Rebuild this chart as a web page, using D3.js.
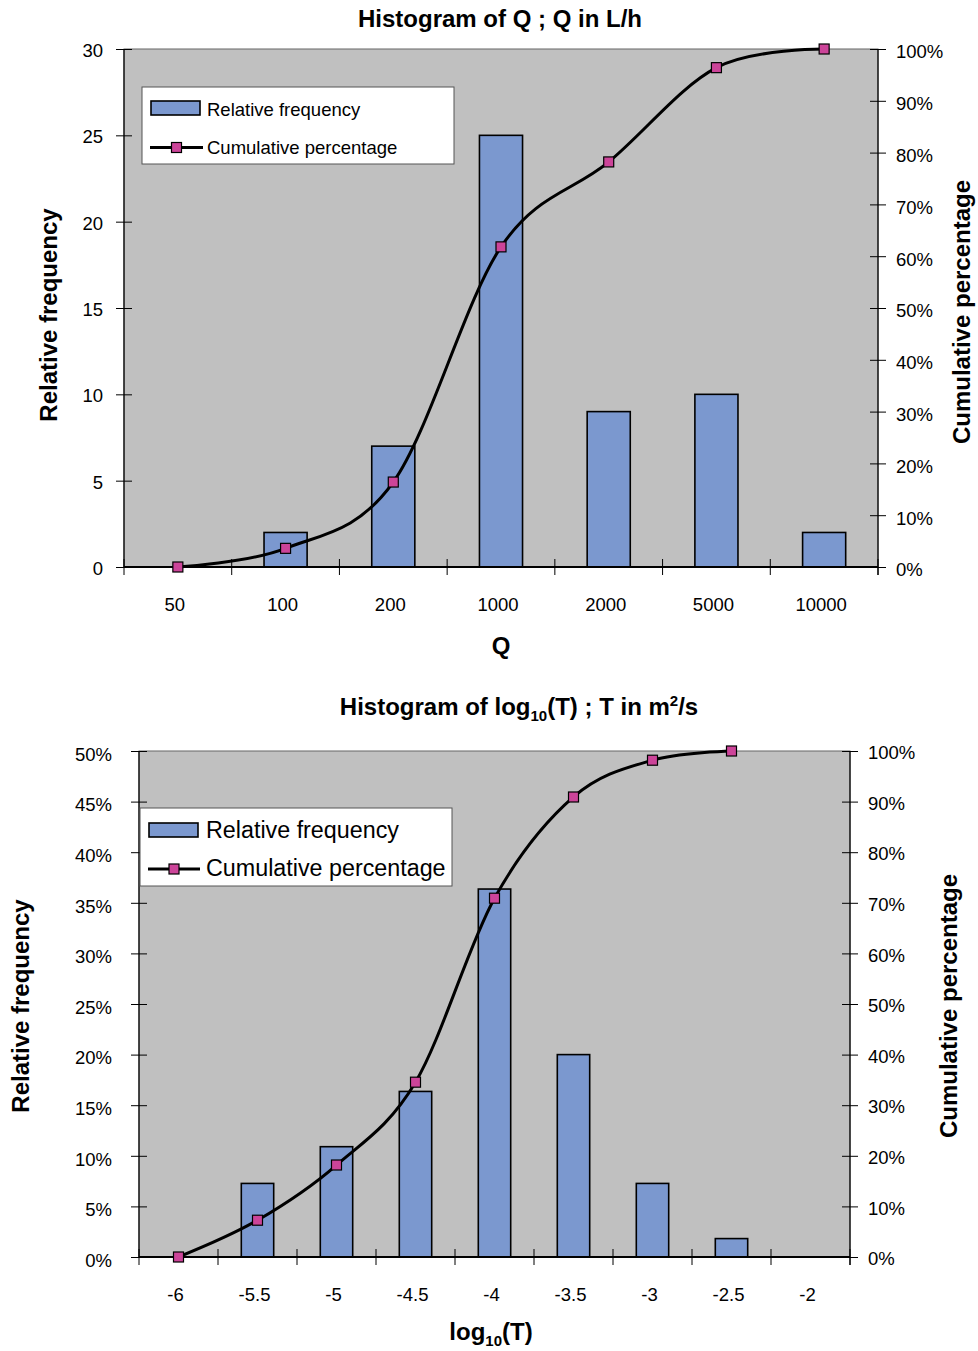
<!DOCTYPE html>
<html><head><meta charset="utf-8">
<script src="https://cdn.jsdelivr.net/npm/d3@7"></script>
<style>
body{margin:0;background:#fff;}
svg text{font-family:"Liberation Sans",Arial,Helvetica,sans-serif;fill:#000;}
</style></head><body>
<svg id="c" width="978" height="1351" xmlns="http://www.w3.org/2000/svg"></svg>
<script>
// ---------- Data: chart 1 (Q) ----------
const qCategories = ["50", "100", "200", "1000", "2000", "5000", "10000"];
const qFrequency  = [0, 2, 7, 25, 9, 10, 2];
const qCumulative = [0, 0.036, 0.164, 0.618, 0.782, 0.964, 1.0];
const qLeftTicks  = [0, 5, 10, 15, 20, 25, 30];
const qRightTicks = [0, 0.1, 0.2, 0.3, 0.4, 0.5, 0.6, 0.7, 0.8, 0.9, 1.0];

// ---------- Data: chart 2 (log10 T) ----------
const tCategories = ["-6", "-5.5", "-5", "-4.5", "-4", "-3.5", "-3", "-2.5", "-2"];
const tFrequency  = [0, 0.0727, 0.109, 0.1636, 0.3636, 0.20, 0.0727, 0.0182, 0];
const tCumulative = [0, 0.0727, 0.1818, 0.3455, 0.7091, 0.9091, 0.9818, 1.0];
const tLeftTicks  = [0, 0.05, 0.10, 0.15, 0.20, 0.25, 0.30, 0.35, 0.40, 0.45, 0.50];
const tRightTicks = [0, 0.1, 0.2, 0.3, 0.4, 0.5, 0.6, 0.7, 0.8, 0.9, 1.0];

const BAR_FILL = "#7B98CF";
const MARK_FILL = "#CC4499";
const PLOT_BG = "#C0C0C0";

const svg = d3.select("#c");
const pct = d3.format(".0%");

function drawChart(o) {
  const g = svg.append("g");
  const x = d3.scaleBand().domain(o.categories).range([o.left, o.right]).padding(0);
  const yL = d3.scaleLinear().domain(o.leftDomain).range([o.bottom, o.top]);
  const yR = d3.scaleLinear().domain([0, 1]).range([o.bottom, o.top]);
  const cx = c => x(c) + x.bandwidth() / 2;

  // plot area
  g.append("rect").attr("x", o.left).attr("y", o.top)
    .attr("width", o.right - o.left).attr("height", o.bottom - o.top)
    .attr("fill", PLOT_BG).attr("stroke", "#666").attr("stroke-width", 1);

  // bars
  const bw = x.bandwidth() * o.barRatio;
  g.selectAll("rect.bar")
    .data(o.categories.map((c, i) => ({ c, v: o.freq[i] })).filter(d => d.v > 0))
    .join("rect").attr("class", "bar")
    .attr("x", d => cx(d.c) - bw / 2).attr("y", d => yL(d.v))
    .attr("width", bw).attr("height", d => yL(0) - yL(d.v))
    .attr("fill", BAR_FILL).attr("stroke", "#000").attr("stroke-width", 1.6);

  // left axis
  const la = g.append("g").attr("transform", `translate(${o.left},0)`)
    .call(d3.axisLeft(yL).tickValues(o.leftTicks).tickFormat(o.leftFormat)
      .tickSize(8).tickPadding(o.leftPad));
  la.select(".domain").remove();
  la.selectAll(".tick line").attr("x1", 8).attr("stroke", "#000");
  la.selectAll("text").attr("font-size", o.tickFont).attr("dy", o.leftDy);
  la.attr("font-family", null);
  g.append("line").attr("x1", o.left).attr("x2", o.left).attr("y1", o.top).attr("y2", o.bottom)
    .attr("stroke", "#000").attr("stroke-width", 1.2);

  // right axis
  const ra = g.append("g").attr("transform", `translate(${o.right},0)`)
    .call(d3.axisRight(yR).tickValues(o.rightTicks).tickFormat(pct)
      .tickSize(8).tickPadding(o.rightPad));
  ra.select(".domain").remove();
  ra.selectAll(".tick line").attr("x1", -8).attr("stroke", "#000");
  ra.selectAll("text").attr("font-size", o.tickFont).attr("dy", o.rightDy);
  ra.attr("font-family", null);
  g.append("line").attr("x1", o.right).attr("x2", o.right).attr("y1", o.top).attr("y2", o.bottom + 8)
    .attr("stroke", "#000").attr("stroke-width", 1.2);

  // bottom axis (labels at category centres)
  const ba = g.append("g").attr("transform", `translate(0,${o.bottom})`)
    .call(d3.axisBottom(x).tickSize(0).tickPadding(o.xPad));
  ba.select(".domain").remove();
  ba.selectAll("text").attr("font-size", o.tickFont).attr("dx", o.xDx);
  ba.attr("font-family", null);
  g.append("line").attr("x1", o.left).attr("x2", o.right).attr("y1", o.bottom).attr("y2", o.bottom)
    .attr("stroke", "#000").attr("stroke-width", 2);
  // boundary ticks
  const bounds = o.categories.map(c => x(c)).concat([x.range()[1]]);
  g.selectAll("line.bt").data(bounds).join("line").attr("class", "bt")
    .attr("x1", d => d).attr("x2", d => d)
    .attr("y1", o.bottom - 8).attr("y2", o.bottom + 8)
    .attr("stroke", "#000").attr("stroke-width", 1);

  // cumulative line
  const pts = o.cum.map((v, i) => ({ c: o.categories[i], v }));
  g.append("path").datum(pts)
    .attr("d", d3.line().x(d => cx(d.c)).y(d => yR(d.v)).curve(d3.curveCatmullRom.alpha(0)))
    .attr("fill", "none").attr("stroke", "#000").attr("stroke-width", 3)
    .attr("stroke-linejoin", "round");
  const ms = 10;
  g.selectAll("rect.mk").data(pts).join("rect").attr("class", "mk")
    .attr("x", d => cx(d.c) - ms / 2).attr("y", d => yR(d.v) - ms / 2)
    .attr("width", ms).attr("height", ms)
    .attr("fill", MARK_FILL).attr("stroke", "#000").attr("stroke-width", 1.2);

  // legend
  const L = o.legend;
  g.append("rect").attr("x", L.x).attr("y", L.y).attr("width", L.w).attr("height", L.h)
    .attr("fill", "#fff").attr("stroke", "#555").attr("stroke-width", 1);
  g.append("rect").attr("x", L.sx).attr("y", L.sy).attr("width", L.sw).attr("height", L.sh)
    .attr("fill", BAR_FILL).attr("stroke", "#000").attr("stroke-width", 1.6);
  g.append("text").attr("x", L.tx).attr("y", L.t1).attr("font-size", L.font).text("Relative frequency");
  g.append("line").attr("x1", L.lx1).attr("x2", L.lx2).attr("y1", L.ly).attr("y2", L.ly)
    .attr("stroke", "#000").attr("stroke-width", 3);
  g.append("rect").attr("x", (L.lx1 + L.lx2) / 2 - ms / 2).attr("y", L.ly - ms / 2)
    .attr("width", ms).attr("height", ms)
    .attr("fill", MARK_FILL).attr("stroke", "#000").attr("stroke-width", 1.2);
  g.append("text").attr("x", L.tx).attr("y", L.t2).attr("font-size", L.font).text("Cumulative percentage");

  // axis titles
  g.append("text").attr("transform", `translate(${o.ltX},${o.ltY}) rotate(-90)`)
    .attr("text-anchor", "middle").attr("font-size", 24).attr("font-weight", "bold")
    .text("Relative frequency");
  g.append("text").attr("transform", `translate(${o.rtX},${o.rtY}) rotate(-90)`)
    .attr("text-anchor", "middle").attr("font-size", 24).attr("font-weight", "bold")
    .text("Cumulative percentage");
  return g;
}

// Chart 1
const g1 = drawChart({
  categories: qCategories, freq: qFrequency, cum: qCumulative,
  leftDomain: [0, 30], leftTicks: qLeftTicks, leftFormat: d3.format("d"), rightTicks: qRightTicks,
  left: 124, right: 878, top: 49, bottom: 567, barRatio: 0.4,
  tickFont: 18.5, leftPad: 13, rightPad: 10, xPad: 31, xDx: -3, leftDy: "0.4em", rightDy: "0.48em",
  legend: { x: 142, y: 87, w: 312, h: 77, sx: 151, sy: 101, sw: 49, sh: 14, tx: 207, t1: 116, t2: 154,
            lx1: 150, lx2: 203, ly: 147.5, font: 18.5 },
  ltX: 57, ltY: 315, rtX: 970, rtY: 312
});
g1.append("text").attr("x", 500).attr("y", 27).attr("text-anchor", "middle")
  .attr("font-size", 24).attr("font-weight", "bold").text("Histogram of Q ; Q in L/h");
g1.append("text").attr("x", 501).attr("y", 654).attr("text-anchor", "middle")
  .attr("font-size", 24).attr("font-weight", "bold").text("Q");

// Chart 2
const g2 = drawChart({
  categories: tCategories, freq: tFrequency, cum: tCumulative,
  leftDomain: [0, 0.5], leftTicks: tLeftTicks, leftFormat: pct, rightTicks: tRightTicks,
  left: 139, right: 850, top: 751, bottom: 1257, barRatio: 0.41,
  tickFont: 18.5, leftPad: 19, rightPad: 10, xPad: 31, xDx: -3, leftDy: "0.5em", rightDy: "0.42em",
  legend: { x: 140, y: 808, w: 312, h: 78, sx: 149, sy: 823, sw: 49, sh: 14, tx: 206, t1: 838, t2: 876,
            lx1: 148, lx2: 200, ly: 869, font: 23.3 },
  ltX: 29, ltY: 1006, rtX: 957, rtY: 1006
});
const t2 = g2.append("text").attr("x", 519).attr("y", 715).attr("text-anchor", "middle")
  .attr("font-size", 24).attr("font-weight", "bold");
t2.append("tspan").text("Histogram of log");
t2.append("tspan").attr("font-size", 15).attr("dy", 6).text("10");
t2.append("tspan").attr("dy", -6).text("(T) ; T in m");
t2.append("tspan").attr("font-size", 15).attr("dy", -9).text("2");
t2.append("tspan").attr("dy", 9).text("/s");
const xl2 = g2.append("text").attr("x", 491).attr("y", 1340).attr("text-anchor", "middle")
  .attr("font-size", 24).attr("font-weight", "bold");
xl2.append("tspan").text("log");
xl2.append("tspan").attr("font-size", 15).attr("dy", 6).text("10");
xl2.append("tspan").attr("dy", -6).text("(T)");
</script>
</body></html>
